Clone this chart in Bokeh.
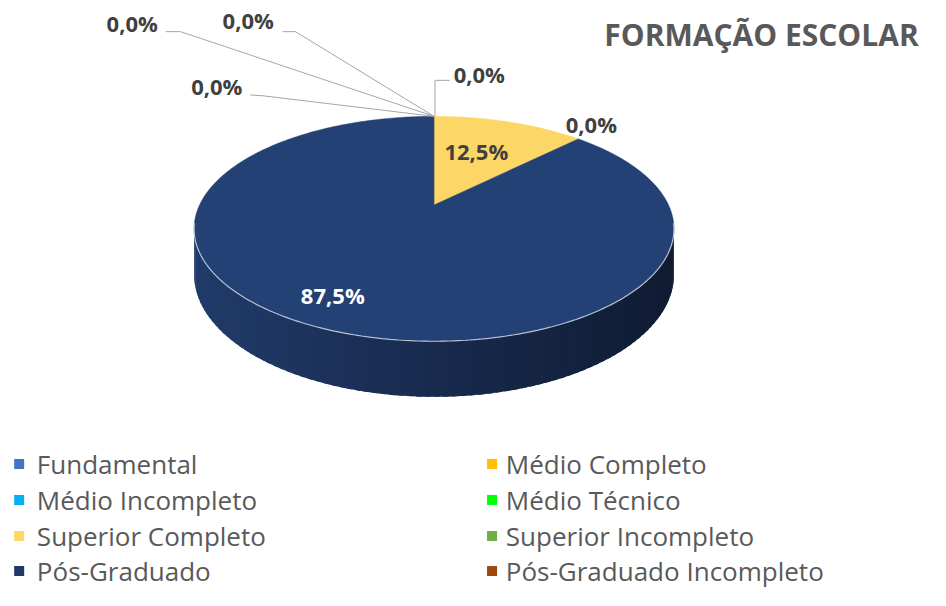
import numpy as np
from bokeh.plotting import figure
from bokeh.models import Range1d
from bokeh.core.properties import value
from bokeh.embed import file_html
from bokeh.resources import INLINE

# ---------------- data ----------------
title = "FORMAÇÃO ESCOLAR"
categories = ["Fundamental", "Médio Completo", "Médio Incompleto", "Médio Técnico",
              "Superior Completo", "Superior Incompleto", "Pós-Graduado",
              "Pós-Graduado Incompleto"]
values = [0.0, 0.0, 0.0, 0.0, 12.5, 0.0, 87.5, 0.0]
legend_colors = ["#4472C4", "#FFC000", "#00B0F0", "#00FF00",
                 "#FFD966", "#70AD47", "#203864", "#9E480E"]
top_colors = ["#4472C4", "#FFC000", "#00B0F0", "#00FF00",
              "#FCD666", "#70AD47", "#244176", "#9E480E"]

# ---------------- layout (reference-pixel coordinates, y down) ----------------
W, H = 930, 590
REF_W, REF_H = 946, 606
CX, CY = 441.0, 210.0      # projected pie centre
A, B, K = 238.5, 110.3, 0.212
DEPTH = 45.0
FONT = value("Open Sans")

# label layout: index -> (x, y, leader points or None)
label_layout = {
    0: (487, 75, [(457, 82), (442, 82)]),
    1: (134, 23, [(168, 32), (183, 32)]),
    2: (252, 20, [(287, 32), (300, 32)]),
    3: (220, 88, [(254, 97), (268, 98)]),
    5: (601, 127, None),
}
inside_layout = {4: (484, 155, "#404040"), 6: (338, 302, "white")}

p = figure(width=W, height=H, x_range=Range1d(0, REF_W), y_range=Range1d(REF_H, 0),
           output_backend="svg", toolbar_location=None, min_border=0)
p.axis.visible = False
p.grid.visible = False
p.outline_line_color = None
p.background_fill_color = "white"


def proj(phi, r=1.0, d=0.0):
    u = r * np.cos(phi)
    v = r * np.sin(phi)
    den = 1 + K * v
    return CX + A * u / den, CY - B * v / den + d / den


def hex2rgb(h):
    h = h.lstrip("#")
    return tuple(int(h[i:i + 2], 16) for i in (0, 2, 4))


def rgb2hex(c):
    return "#%02x%02x%02x" % tuple(int(max(0, min(255, round(x)))) for x in c)


total = sum(values)
fracs = [v / total for v in values]
starts, ends = [], []
ang = np.pi / 2
for f in fracs:
    starts.append(ang)
    ang = ang - 2 * np.pi * f
    ends.append(ang)


def slice_at(phi):
    for i in range(len(values)):
        if fracs[i] <= 0:
            continue
        a0, a1 = starts[i], ends[i]
        t = (a0 - phi) % (2 * np.pi)
        if t <= (a0 - a1) + 1e-9:
            return i
    return 0


# ---------------- side wall (overlapping strips for a smooth gradient) ----------------
phi_l = np.pi + np.arcsin(K)
phi_r = 2 * np.pi - np.arcsin(K)
N = 90
edges = np.linspace(phi_l, phi_r, N + 1)
step = edges[1] - edges[0]
xs_side, ys_side, cols_side = [], [], []
x_left, _ = proj(phi_l)
x_right, _ = proj(phi_r)
for j in range(N):
    a0 = edges[j]
    a1 = min(edges[j + 1] + 0.6 * step, phi_r)
    arc = np.linspace(a0, a1, 4)
    tx, ty = proj(arc)
    bx, by = proj(arc[::-1], d=DEPTH)
    xm = float(np.mean(proj(np.array([edges[j], edges[j + 1]]))[0]))
    t = (xm - x_left) / (x_right - x_left)
    fac = 0.90 - 0.48 * t
    base = hex2rgb(top_colors[slice_at(0.5 * (edges[j] + edges[j + 1]))])
    c = rgb2hex([ch * fac for ch in base])
    xs_side.append(list(tx) + list(bx))
    ys_side.append(list(ty) + list(by))
    cols_side.append(c)
p.patches(xs_side, ys_side, fill_color=cols_side, line_color=None)

# ---------------- top face ----------------
xs_top, ys_top, cols_top = [], [], []
for i, f in enumerate(fracs):
    if f <= 0:
        continue
    n = max(8, int(400 * f))
    arc = np.linspace(starts[i], ends[i], n)
    px, py = proj(arc)
    xs_top.append([CX] + list(px))
    ys_top.append([CY] + list(py))
    cols_top.append(top_colors[i])
p.patches(xs_top, ys_top, fill_color=cols_top, line_color=cols_top, line_width=0.5)

# front rim highlight
rim = np.linspace(phi_l - 0.05, phi_r + 0.05, 200)
rx, ry = proj(rim)
p.line(rx, ry, line_color="#c9cfdb", line_width=1.2, line_alpha=0.9)

# ---------------- data labels ----------------
def fmt(v):
    return ("%.1f" % v).replace(".", ",") + "%"

ax, ay = proj(np.pi / 2)
for i, (lx, ly, leader) in label_layout.items():
    pct = fracs[i] * 100
    if leader is not None:
        if leader[-1][0] == 442:
            pts = leader + [(442, ay)]
        else:
            pts = leader + [(ax, ay)]
        p.line([q[0] for q in pts], [q[1] for q in pts], line_color="#a6a6a6", line_width=1)
    p.text([lx], [ly], text=[fmt(pct)], text_font=FONT, text_font_size="22px",
           text_font_style="bold", text_color="#404040", text_align="center",
           text_baseline="middle")

for i, (lx, ly, col) in inside_layout.items():
    p.text([lx], [ly], text=[fmt(fracs[i] * 100)], text_font=FONT, text_font_size="22px",
           text_font_style="bold", text_color=col, text_align="center",
           text_baseline="middle")

# ---------------- title ----------------
p.text([934], [35], text=[title], text_font=FONT, text_font_size="30px",
       text_font_style="bold", text_color="#595959", text_align="right",
       text_baseline="middle")

# ---------------- legend ----------------
row_y = [476, 513, 550, 586]
col_sq = [19, 500]
col_tx = [37, 514]
lx_sq, ly_sq, lx_tx, ly_tx = [], [], [], []
for i, name in enumerate(categories):
    r, c = i // 2, i % 2
    lx_sq.append(col_sq[c]); ly_sq.append(row_y[r])
    lx_tx.append(col_tx[c]); ly_tx.append(row_y[r])
p.rect(lx_sq, ly_sq, width=10, height=10, width_units="screen", height_units="screen",
       fill_color=legend_colors, line_color=None)
p.text(lx_tx, ly_tx, text=categories, text_font=FONT, text_font_size="26px",
       text_color="#595959", text_align="left", text_baseline="middle")

open("out.html", "w").write(file_html(p, INLINE))
